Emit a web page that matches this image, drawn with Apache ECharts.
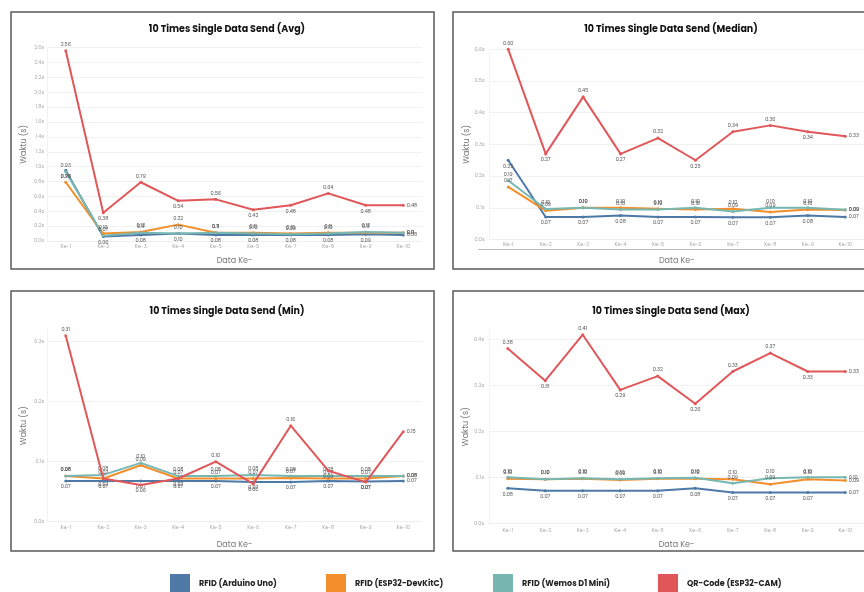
<!DOCTYPE html>
<html>
<head>
<meta charset="utf-8">
<script src="https://cdn.jsdelivr.net/npm/echarts@6/dist/echarts.min.js"></script>
<style>
  html, body { margin: 0; padding: 0; background: #ffffff; }
  #chart { width: 864px; height: 592px; }
</style>
</head>
<body>
<div id="chart"></div>
<script>
// Categories (measurement index) and device names
const categories = ['Ke-1', 'Ke-2', 'Ke-3', 'Ke-4', 'Ke-5', 'Ke-6', 'Ke-7', 'Ke-8', 'Ke-9', 'Ke-10'];
const deviceNames = ['RFID (Arduino Uno)', 'RFID (ESP32-DevKitC)', 'RFID (Wemos D1 Mini)', 'QR-Code (ESP32-CAM)'];
const deviceColors = ['#4e79a7', '#f28e2b', '#76b7b2', '#e15759'];

// Average send time (s)
const avgArduino = [0.95, 0.06, 0.08, 0.10, 0.08, 0.08, 0.08, 0.08, 0.09, 0.08];
const avgEsp32   = [0.79, 0.10, 0.12, 0.22, 0.11, 0.11, 0.10, 0.11, 0.11, 0.11];
const avgWemos   = [0.93, 0.07, 0.11, 0.10, 0.11, 0.10, 0.09, 0.10, 0.12, 0.11];
const avgQrCam   = [2.56, 0.38, 0.79, 0.54, 0.56, 0.42, 0.48, 0.64, 0.48, 0.48];

// Median send time (s)
const medArduino = [0.25, 0.071, 0.071, 0.076, 0.071, 0.071, 0.070, 0.070, 0.076, 0.071];
const medEsp32   = [0.166, 0.091, 0.10, 0.10, 0.097, 0.095, 0.097, 0.087, 0.095, 0.093];
const medWemos   = [0.186, 0.096, 0.10, 0.095, 0.095, 0.10, 0.088, 0.10, 0.10, 0.094];
const medQrCam   = [0.60, 0.27, 0.45, 0.27, 0.32, 0.25, 0.34, 0.36, 0.34, 0.326];

// Minimum send time (s)
const minArduino = [0.068, 0.068, 0.068, 0.068, 0.068, 0.066, 0.066, 0.068, 0.067, 0.068];
const minEsp32   = [0.076, 0.072, 0.094, 0.072, 0.072, 0.072, 0.073, 0.072, 0.072, 0.076];
const minWemos   = [0.076, 0.078, 0.098, 0.076, 0.076, 0.078, 0.076, 0.076, 0.076, 0.076];
const minQrCam   = [0.31, 0.072, 0.061, 0.072, 0.10, 0.063, 0.16, 0.085, 0.066, 0.15];

// Maximum send time (s)
const maxArduino = [0.076, 0.071, 0.071, 0.071, 0.071, 0.076, 0.067, 0.067, 0.067, 0.067];
const maxEsp32   = [0.097, 0.096, 0.097, 0.094, 0.097, 0.097, 0.096, 0.085, 0.096, 0.093];
const maxWemos   = [0.10, 0.096, 0.098, 0.096, 0.098, 0.099, 0.087, 0.098, 0.10, 0.10];
const maxQrCam   = [0.38, 0.31, 0.41, 0.29, 0.32, 0.26, 0.33, 0.37, 0.33, 0.33];

// Y-axis tick settings per panel
const yMax      = [2.6, 0.6, 0.32, 0.42];
const yInterval = [0.2, 0.1, 0.1, 0.1];

const panelTitles = [
  '10 Times Single Data Send (Avg)',
  '10 Times Single Data Send (Median)',
  '10 Times Single Data Send (Min)',
  '10 Times Single Data Send (Max)'
];
const panelData = [
  [avgArduino, avgEsp32, avgWemos, avgQrCam],
  [medArduino, medEsp32, medWemos, medQrCam],
  [minArduino, minEsp32, minWemos, minQrCam],
  [maxArduino, maxEsp32, maxWemos, maxQrCam]
];

// Layout of each panel: frame box, plot grid, text positions
const layout = [
  { frame: [11, 12, 423, 257], grid: { left: 47, top: 47.7, width: 375, height: 193.3 },
    titleX: 222, titleY: 20, labelMargin: 3, xNameGap: 16, yNameGap: 19, yLabelMargin: 3 },
  { frame: [453, 12, 420, 257], grid: { left: 489.5, top: 49.3, width: 376, height: 190.2 },
    titleX: 666, titleY: 20, labelMargin: 3, xNameGap: 17.5, yNameGap: 18, yLabelMargin: 5 },
  { frame: [11, 291, 423, 260], grid: { left: 47, top: 329.7, width: 375, height: 192 },
    titleX: 222, titleY: 302, labelMargin: 4, xNameGap: 19, yNameGap: 19, yLabelMargin: 3 },
  { frame: [453, 291, 420, 260], grid: { left: 489, top: 330.1, width: 378, height: 193.2 },
    titleX: 666, titleY: 302, labelMargin: 5, xNameGap: 17.5, yNameGap: 17, yLabelMargin: 5 }
];

const FONT = 'Poppins, "Open Sans", "Noto Sans", sans-serif';

// Place data labels: low lines below, mid lines above, the QR line by local shape
function labelPosition(values, seriesIdx, i) {
  if (i === values.length - 1) return 'right';
  if (seriesIdx === 0) return 'bottom';
  if (seriesIdx === 1 || seriesIdx === 2) return 'top';
  const prev = i > 0 ? values[i - 1] : values[i + 1];
  const next = i < values.length - 1 ? values[i + 1] : values[i - 1];
  return values[i] >= (prev + next) / 2 ? 'top' : 'bottom';
}

function onTick(p) {
  const r = yMax[p] / yInterval[p];
  return Math.abs(r - Math.round(r)) < 1e-9;
}

const grids = [], xAxes = [], yAxes = [], series = [], titles = [], graphics = [];

layout.forEach((lay, p) => {
  grids.push(Object.assign({ containLabel: false }, lay.grid));
  titles.push({
    text: panelTitles[p], left: lay.titleX, top: lay.titleY, textAlign: 'center',
    textStyle: { fontFamily: FONT, fontSize: 9.5, fontWeight: 'bold', color: '#111' }
  });
  xAxes.push({
    type: 'category', gridIndex: p, data: categories, boundaryGap: true,
    name: 'Data Ke-', nameLocation: 'middle', nameGap: lay.xNameGap,
    nameTextStyle: { fontFamily: FONT, fontSize: 8, color: '#777' },
    axisTick: { show: false },
    axisLine: { show: true, lineStyle: { color: '#eeeeee', width: 1 } },
    axisLabel: { fontFamily: FONT, fontSize: 5, color: '#aaaaaa', margin: lay.labelMargin }
  });
  yAxes.push({
    type: 'value', gridIndex: p, min: 0, max: yMax[p], interval: yInterval[p],
    name: 'Waktu (s)', nameLocation: 'middle', nameGap: lay.yNameGap, nameRotate: 90,
    nameTextStyle: { fontFamily: FONT, fontSize: 8, color: '#777' },
    axisLine: { show: true, lineStyle: { color: '#f2f2f2' } },
    axisTick: { show: false },
    axisLabel: {
      fontFamily: FONT, fontSize: 5, color: '#aaaaaa', margin: lay.yLabelMargin,
      showMaxLabel: onTick(p),
      formatter: v => v.toFixed(1) + 's'
    },
    splitLine: {
      show: true, showMaxLine: onTick(p),
      lineStyle: { color: '#f1f1f1', width: 1 }
    }
  });

  panelData[p].forEach((values, s) => {
    series.push({
      name: deviceNames[s], type: 'line', xAxisIndex: p, yAxisIndex: p,
      data: values.map((v, i) => ({
        value: v,
        label: { position: labelPosition(values, s, i) }
      })),
      symbol: 'circle', symbolSize: 3, showSymbol: true,
      lineStyle: { width: 2, color: deviceColors[s] },
      itemStyle: { color: deviceColors[s] },
      label: {
        show: true, fontFamily: FONT, fontSize: 5, color: '#555', distance: 2,
        formatter: prm => prm.value.toFixed(2)
      },
      emphasis: { disabled: true },
      animation: false,
      z: s === 3 ? 3 : 2
    });
  });

  const [fx, fy, fw, fh] = lay.frame;
  graphics.push({
    type: 'rect', shape: { x: fx, y: fy, width: fw, height: fh },
    style: { fill: 'none', stroke: '#5a5a5a', lineWidth: 1.5 }, z: 100, silent: true
  });
});

// Divider line beneath the median panel's category labels
graphics.push({
  type: 'line', shape: { x1: 478, y1: 249.5, x2: 864, y2: 249.5 },
  style: { stroke: '#bbbbbb', lineWidth: 1 }, silent: true
});

// One legend entry per device, spaced along the bottom
const legendLeft = [165, 321, 488, 653];
const legends = deviceNames.map((n, i) => ({
  data: [n], left: legendLeft[i], top: 569, orient: 'horizontal',
  icon: 'rect', itemWidth: 20, itemHeight: 20, itemGap: 10,
  selectedMode: false,
  textStyle: { fontFamily: FONT, fontSize: 8, fontWeight: 'bold', color: '#222', padding: [0, 0, 0, 4] }
}));

const chart = echarts.init(document.getElementById('chart'), null, { renderer: 'canvas' });
chart.setOption({
  backgroundColor: '#ffffff',
  animation: false,
  color: deviceColors,
  title: titles,
  legend: legends,
  grid: grids,
  xAxis: xAxes,
  yAxis: yAxes,
  series: series,
  graphic: graphics
});
</script>
</body>
</html>
